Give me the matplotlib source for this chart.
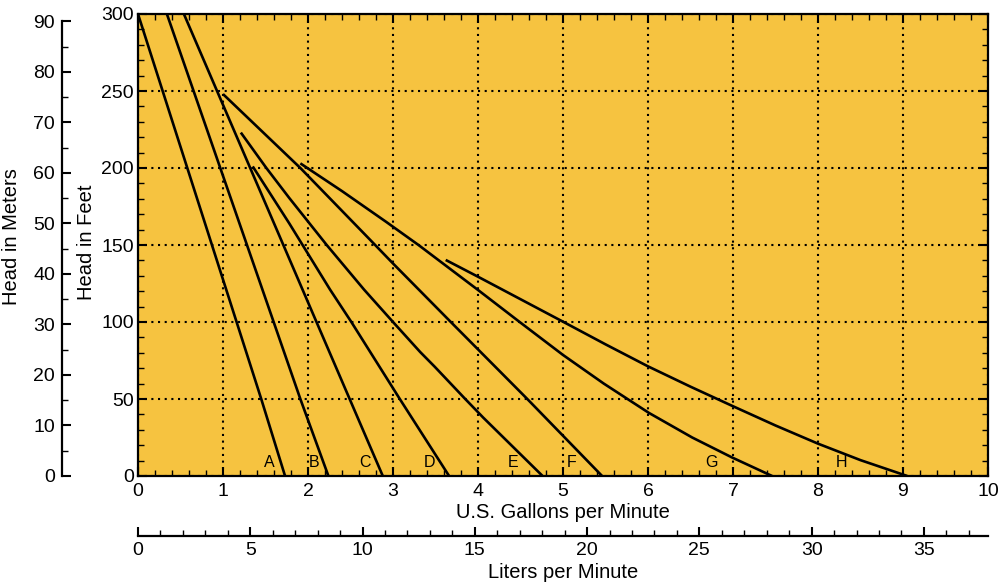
import matplotlib
matplotlib.use("Agg")
import matplotlib.pyplot as plt
from matplotlib.ticker import MultipleLocator

plt.rcParams['font.family'] = ['Liberation Sans', 'DejaVu Sans']

# ---- data (GPM, head in feet) ----
curve_names = ["A", "B", "C", "D", "E", "F", "G", "H"]
A_gpm = [0.0, 1.45, 1.73]
A_ft = [300, 50, 0]
B_gpm = [0.34, 1.91, 2.24]
B_ft = [300, 50, 0]
C_gpm = [0.54, 0.93, 2.10, 2.88]
C_ft = [300, 250, 100, 0]
D_gpm = [1.35, 1.78, 2.26, 2.51, 3.08, 3.66]
D_ft = [201, 164, 121, 100, 50, 0]
E_gpm = [1.21, 1.51, 1.78, 2.22, 2.66, 3.00, 3.32, 3.49, 3.85, 4.06, 4.76]
E_ft = [223, 200, 180.5, 150, 121, 100, 80.5, 71, 50, 38, 0]
F_gpm = [1.00, 1.91, 2.79, 3.00, 3.68, 4.58, 5.46]
F_ft = [248, 200, 150, 138, 100, 50, 0]
G_gpm = [1.91, 2.40, 2.92, 3.30, 4.00, 4.49, 5.00, 5.48, 6.01, 6.52, 6.99, 7.46]
G_ft = [203, 185, 165, 150, 120.8, 100, 78.6, 60, 41, 25, 12, 0]
H_gpm = [3.62, 4.00, 5.00, 5.50, 6.00, 6.50, 7.00, 7.50, 8.00, 8.50, 9.05]
H_ft = [140.3, 129.4, 100.2, 85.5, 71.2, 58, 45.3, 32.8, 21, 10.3, 0]
label_gpm = [1.55, 2.07, 2.67, 3.43, 4.41, 5.10, 6.75, 8.28]
label_ft = [9, 9, 9, 9, 9, 9, 9, 9]

curves = [(A_gpm, A_ft), (B_gpm, B_ft), (C_gpm, C_ft), (D_gpm, D_ft),
          (E_gpm, E_ft), (F_gpm, F_ft), (G_gpm, G_ft), (H_gpm, H_ft)]

FT_PER_M = 3.28084
L_PER_GAL = 3.78541

W, H = 1000, 585
fig = plt.figure(figsize=(W / 100, H / 100), dpi=100)
fig.patch.set_facecolor('white')

L, R, T, B = 138, 988, 14, 476
rect = [L / W, 1 - B / H, (R - L) / W, (B - T) / H]
TICK_FS = 14
LABEL_FS = 14.5

ax = fig.add_axes(rect)
ax.set_facecolor('#F6C340')
ax.set_xlim(0, 10)
ax.set_ylim(0, 300)
ax.xaxis.set_major_locator(MultipleLocator(1))
ax.xaxis.set_minor_locator(MultipleLocator(0.2))
ax.yaxis.set_major_locator(MultipleLocator(50))
ax.yaxis.set_minor_locator(MultipleLocator(10))
ax.tick_params(which='both', direction='in', top=True, right=True, colors='black')
ax.tick_params(which='major', length=6.5, width=1.5, labelsize=TICK_FS, pad=3)
ax.tick_params(which='minor', length=4, width=1.0)
ax.tick_params(axis='x', which='major', pad=5)
for s in ax.spines.values():
    s.set_linewidth(1.6)
ax.grid(True, which='major', color='black', linestyle=(0, (1, 2.2)), linewidth=1.5)
ax.set_axisbelow(True)

for (gx, fy) in curves:
    ax.plot(gx, fy, color='black', linewidth=1.9, solid_capstyle='butt',
            solid_joinstyle='round', zorder=3)
for name, lx, ly in zip(curve_names, label_gpm, label_ft):
    ax.text(lx, ly, name, fontsize=11.5, ha='center', va='center', zorder=4)

# ---- meters axis ----
axm = fig.add_axes(rect)
axm.patch.set_visible(False)
axm.set_ylim(0, 300 / FT_PER_M)
axm.set_xlim(0, 1)
axm.xaxis.set_visible(False)
axm.spines['left'].set_position(('axes', (62 - L) / (R - L)))
axm.spines['left'].set_bounds(0, 90)
axm.spines['left'].set_linewidth(1.6)
for k in ['right', 'top', 'bottom']:
    axm.spines[k].set_visible(False)
axm.yaxis.set_major_locator(MultipleLocator(10))
axm.yaxis.set_minor_locator(MultipleLocator(5))
axm.tick_params(axis='y', which='both', direction='in', left=True, right=False)
axm.tick_params(axis='y', which='major', length=6.5, width=1.5, labelsize=TICK_FS, pad=5)
axm.tick_params(axis='y', which='minor', length=4, width=1.0)

# ---- liters axis ----
axl = fig.add_axes(rect)
axl.patch.set_visible(False)
axl.set_xlim(0, 10 * L_PER_GAL)
axl.set_ylim(0, 1)
axl.yaxis.set_visible(False)
axl.spines['bottom'].set_position(('axes', -(536 - B) / (B - T)))
axl.spines['bottom'].set_linewidth(1.6)
for k in ['right', 'top', 'left']:
    axl.spines[k].set_visible(False)
axl.xaxis.set_major_locator(MultipleLocator(5))
axl.xaxis.set_minor_locator(MultipleLocator(1))
axl.tick_params(axis='x', which='both', direction='in', bottom=True, top=False)
axl.tick_params(axis='x', which='major', length=6.5, width=1.5, labelsize=TICK_FS, pad=4)
axl.tick_params(axis='x', which='minor', length=4, width=1.0)

# ---- axis titles ----
fig.text(563 / W, 1 - 512 / H, "U.S. Gallons per Minute", ha='center', va='center', fontsize=LABEL_FS)
fig.text(563 / W, 1 - 572 / H, "Liters per Minute", ha='center', va='center', fontsize=LABEL_FS)
fig.text(86 / W, 1 - 242 / H, "Head in Feet", ha='center', va='center', rotation=90, fontsize=LABEL_FS)
fig.text(12 / W, 1 - 237 / H, "Head in Meters", ha='center', va='center', rotation=90, fontsize=LABEL_FS)

fig.savefig("out.png", dpi=100, facecolor='white')
